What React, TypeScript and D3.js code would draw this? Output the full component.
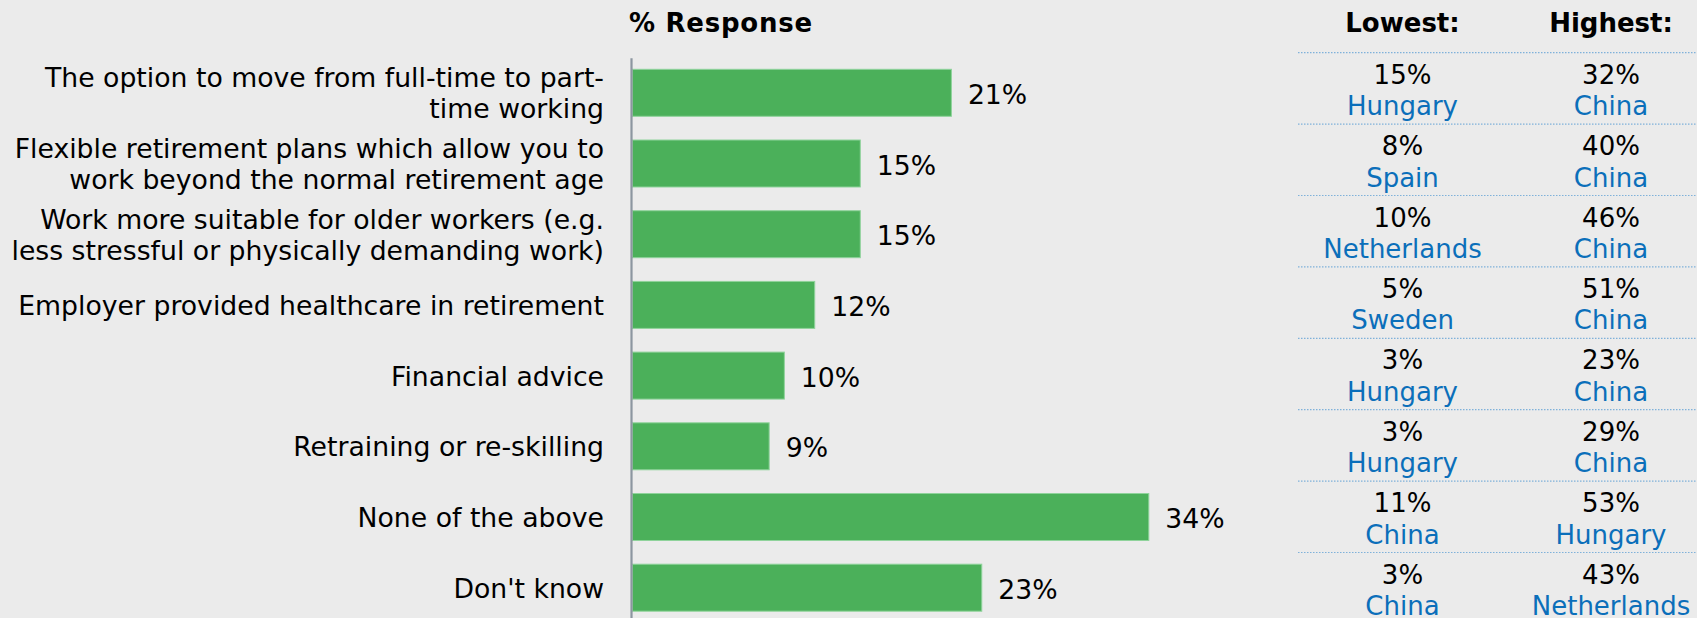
import React from "react";
import * as d3 from "d3";

const categories: string[][] = [
  ["The option to move from full-time to part-", "time working"],
  ["Flexible retirement plans which allow you to", "work beyond the normal retirement age"],
  ["Work more suitable for older workers (e.g.", "less stressful or physically demanding work)"],
  ["Employer provided healthcare in retirement"],
  ["Financial advice"],
  ["Retraining or re-skilling"],
  ["None of the above"],
  ["Don't know"],
];
const responses = [21, 15, 15, 12, 10, 9, 34, 23];
const lowestValues = [15, 8, 10, 5, 3, 3, 11, 3];
const lowestCountries = ["Hungary", "Spain", "Netherlands", "Sweden", "Hungary", "Hungary", "China", "China"];
const highestValues = [32, 40, 46, 51, 23, 29, 53, 43];
const highestCountries = ["China", "China", "China", "China", "China", "China", "Hungary", "Netherlands"];

const W = 1697;
const H = 618;
const FONT = "'DejaVu Sans', Verdana, sans-serif";

export default function App() {
  const idx = d3.range(categories.length);
  const axisX = 631.5;
  const x = d3.scaleLinear().domain([0, 34]).range([axisX + 1, 1148.8]);
  const step = 70.7;
  const inner = (step - 47) / step;
  const y = d3
    .scaleBand<number>()
    .domain(idx)
    .range([69.3 - (inner / 2) * step, 69.3 - (inner / 2) * step + 8 * step])
    .paddingInner(inner)
    .paddingOuter(inner / 2);
  const rowY = d3.scaleBand<number>().domain(idx).range([52.7, 52.7 + 8 * 71.4]);
  const lowX = 1402.5;
  const highX = 1611;
  const LBL = 26.7;

  return (
    <div style={{ position: "fixed", left: 0, top: 0 }}>
      <svg width={W} height={H} style={{ display: "block", background: "#ebebeb" }} fontFamily={FONT}>
        <rect x={0} y={0} width={W} height={H} fill="#ebebeb" />
        <text x={629} y={32.3} fontSize={26} fontWeight="bold" letterSpacing={0.75} fill="#000">% Response</text>
        <text x={lowX} y={32.3} fontSize={26} fontWeight="bold" textAnchor="middle" fill="#000">Lowest:</text>
        <text x={highX} y={32.3} fontSize={26} fontWeight="bold" textAnchor="middle" fill="#000">Highest:</text>

        {idx.map((i) => {
          const top = y(i)!;
          const bw = y.bandwidth();
          const cy = top + bw / 2;
          const lines = categories[i];
          return (
            <g key={i}>
              <rect
                x={x(0)}
                y={top}
                width={x(responses[i]) - x(0)}
                height={bw}
                fill="#4bb05a"
                stroke="#8fd39b"
                strokeWidth={1}
              />
              <text x={x(responses[i]) + 16.5} y={cy + 11} fontSize={LBL} fill="#000">
                {responses[i]}%
              </text>
              {lines.length === 1 ? (
                <text x={604} y={cy + 10} fontSize={LBL} textAnchor="end" fill="#000">
                  {lines[0]}
                </text>
              ) : (
                <text fontSize={LBL} textAnchor="end" fill="#000">
                  <tspan x={604} y={cy - 5.5}>{lines[0]}</tspan>
                  <tspan x={604} y={cy + 25.5}>{lines[1]}</tspan>
                </text>
              )}
            </g>
          );
        })}

        <line x1={axisX} x2={axisX} y1={58.3} y2={H} stroke="#8c96a0" strokeWidth={2.2} />

        {idx.map((i) => {
          const top = rowY(i)!;
          return (
            <g key={"t" + i}>
              <line
                x1={1298}
                x2={W}
                y1={top}
                y2={top}
                stroke="#7fb1da"
                strokeWidth={1.2}
                strokeDasharray="1.5,1.5"
              />
              <text x={lowX} y={top + 31} fontSize={26} textAnchor="middle" fill="#000">{lowestValues[i]}%</text>
              <text x={lowX} y={top + 62.5} fontSize={26} textAnchor="middle" fill="#0b6fba">{lowestCountries[i]}</text>
              <text x={highX} y={top + 31} fontSize={26} textAnchor="middle" fill="#000">{highestValues[i]}%</text>
              <text x={highX} y={top + 62.5} fontSize={26} textAnchor="middle" fill="#0b6fba">{highestCountries[i]}</text>
            </g>
          );
        })}
      </svg>
    </div>
  );
}
